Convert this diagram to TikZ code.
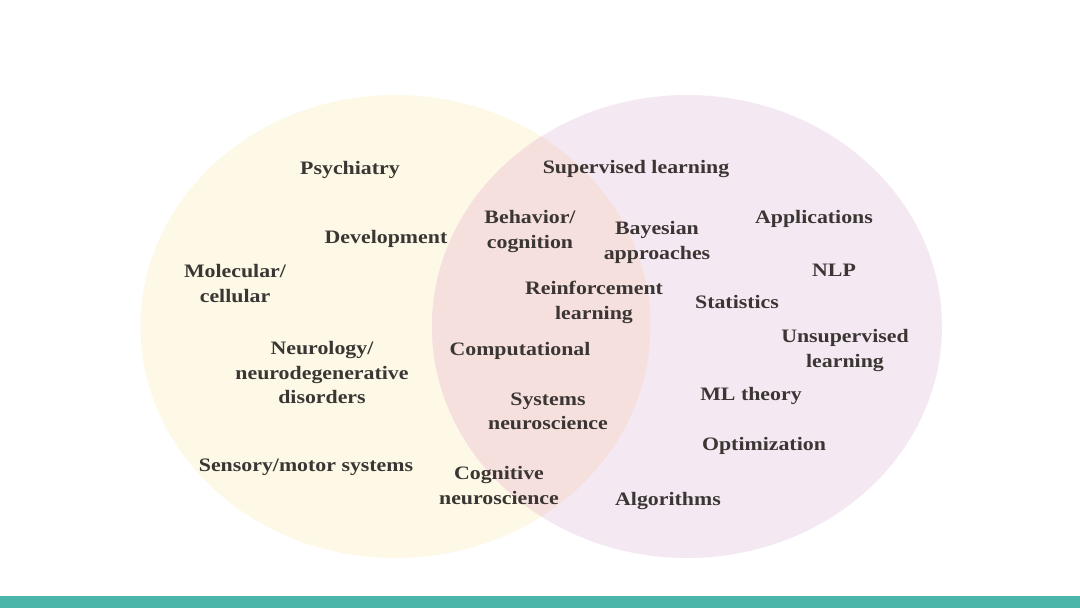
\documentclass[tikz,border=0pt]{standalone}
\usepackage{fontspec}
\setmainfont{Liberation Serif}
\newfontfamily\lblfont[FakeStretch=1.15]{Liberation Serif}
\definecolor{lefty}{HTML}{FEF8E6}
\definecolor{righty}{HTML}{F4E9F2}
\definecolor{overlap}{HTML}{F5E0DD}
\definecolor{teal}{HTML}{4AB5A8}
\definecolor{ink}{HTML}{3B3633}
\begin{document}
\begin{tikzpicture}[x=1pt,y=-1pt,
  lbl/.style={inner sep=0pt, align=center, yshift=-2.5pt, text=ink, font=\lblfont\fontsize{19}{24.5}\selectfont\bfseries}]
\useasboundingbox (0,0) rectangle (1080,608);
\fill[white] (0,0) rectangle (1080,608);
\fill[lefty] (395.5,326.5) ellipse [x radius=255, y radius=231.5];
\fill[righty] (687,326.5) ellipse [x radius=255, y radius=231.5];
\begin{scope}
\clip (395.5,326.5) ellipse [x radius=255, y radius=231.5];
\fill[overlap] (687,326.5) ellipse [x radius=255, y radius=231.5];
\end{scope}
\fill[teal] (0,596) rectangle (1080,608);
\node[lbl] (psy) at (350,167) {Psychiatry};
\node[lbl] (sup) at (636,167) {Supervised learning};
\node[lbl] (beh) at (530,229) {Behavior/\\cognition};
\node[lbl] (bay) at (657,240) {Bayesian\\approaches};
\node[lbl] (app) at (814,216) {Applications};
\node[lbl] (dev) at (386,236) {Development};
\node[lbl] (mol) at (235,281) {Molecular/\\cellular};
\node[lbl] (nlp) at (834,268) {NLP};
\node[lbl] (rl) at (594,300) {Reinforcement\\learning};
\node[lbl] (sta) at (737,299) {Statistics};
\node[lbl] (uns) at (845,348) {Unsupervised\\learning};
\node[lbl] (neu) at (322,370) {Neurology/\\neurodegenerative\\disorders};
\node[lbl] (com) at (520,348) {Computational};
\node[lbl] (mlt) at (751,393) {ML theory};
\node[lbl] (sys) at (548,409) {Systems\\neuroscience};
\node[lbl] (opt) at (764,443) {Optimization};
\node[lbl] (sen) at (306,465) {Sensory/motor systems};
\node[lbl] (cog) at (499,483) {Cognitive\\neuroscience};
\node[lbl] (alg) at (668,498) {Algorithms};
\end{tikzpicture}
\end{document}
